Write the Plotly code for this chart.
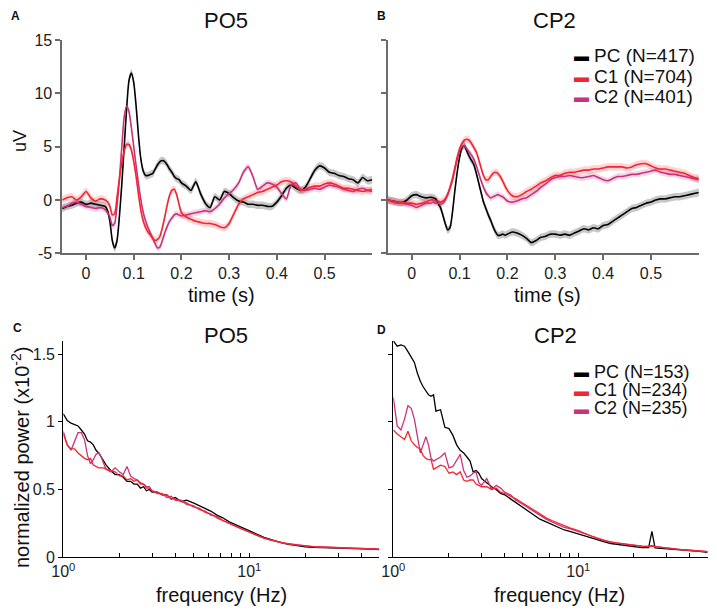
import math
import plotly.graph_objects as go

# ---------------- ERP data (time in s, amplitude in uV) ----------------
T = [-0.05, -0.04, -0.03, -0.02, -0.01, 0.0, 0.01, 0.02, 0.03, 0.04,
     0.045, 0.05, 0.055, 0.06, 0.065, 0.07, 0.075, 0.08, 0.085, 0.09,
     0.095, 0.1, 0.105, 0.11, 0.115, 0.12, 0.125, 0.13, 0.135, 0.14,
     0.145, 0.15, 0.155, 0.16, 0.165, 0.17, 0.175, 0.18, 0.185, 0.19,
     0.195, 0.2,
     0.21, 0.22, 0.23, 0.24, 0.25, 0.26, 0.27, 0.28, 0.29, 0.3,
     0.31, 0.32, 0.33, 0.34, 0.35, 0.36, 0.37, 0.38, 0.39, 0.4,
     0.41, 0.42, 0.43, 0.44, 0.45, 0.46, 0.47, 0.48, 0.49, 0.5,
     0.51, 0.52, 0.53, 0.54, 0.55, 0.56, 0.57, 0.58, 0.59, 0.6]

# Panel A (PO5)
A_PC = [-0.8, -0.6, -0.5, -0.3, -0.2, -0.4, -0.3, -0.4, -0.5, -0.6,
        -1.0, -2.0, -3.8, -4.5, -3.8, -1.5, 1.5, 5.0, 8.5, 11.2,
        11.9, 11.0, 8.8, 6.0, 3.8, 2.7, 2.3, 2.3, 2.4, 2.5,
        2.9, 3.3, 3.6, 3.7, 3.6, 3.3, 2.9, 2.6, 2.2, 2.0,
        1.9, 1.6,
        1.3, 0.9, 1.7, 0.6, -0.3, -0.7, 0.3, 0.0, 0.8, 0.6,
        0.2, -0.1, -0.2, -0.4, -0.4, -0.5, -0.5, -0.6, -0.6, -0.2,
        0.4, 1.1, 1.4, 1.1, 0.9, 1.2, 2.0, 2.8, 3.2, 3.0,
        2.6, 2.5, 2.3, 2.2, 2.0, 1.9, 1.6, 2.1, 1.8, 1.9]
A_C1 = [0.0, 0.2, 0.3, 0.0, 0.3, 0.8, 0.2, -0.1, 0.1, 0.0,
        -0.2, -0.6, -1.4, -1.3, 0.3, 2.0, 3.5, 4.6, 5.2, 5.2,
        4.7, 3.6, 2.2, 0.5, -1.0, -2.0, -2.6, -3.0, -3.3, -3.6,
        -3.8, -3.7, -3.4, -2.6, -1.6, -0.5, 0.4, 0.9, 1.0, 0.5,
        -0.4, -1.2,
        -1.6, -1.8, -2.0, -2.1, -2.2, -2.2, -2.3, -2.5, -2.6, -2.2,
        -1.3, -0.4, 0.1, 0.3, 0.5, 0.7, 0.8, 1.0, 1.2, 1.4,
        1.7, 1.8, 1.7, 1.3, 0.9, 1.0, 1.2, 1.3, 1.3, 1.5,
        1.6, 1.5, 1.3, 1.1, 1.1, 1.0, 0.9, 0.8, 0.9, 0.8]
A_C2 = [-0.7, -0.6, -0.3, -0.2, -0.4, -0.6, -0.7, -0.8, -0.7, -0.9,
        -1.2, -1.6, -2.4, -2.2, -0.5, 2.0, 5.0, 7.8, 8.8, 8.3,
        6.8, 5.0, 3.2, 1.5, 0.0, -1.2, -2.0, -2.6, -3.1, -3.6,
        -4.1, -4.5, -4.4, -3.8, -3.1, -2.5, -2.0, -1.7, -1.4, -1.3,
        -1.4, -1.5,
        -1.4, -1.3, -1.2, -1.1, -1.0, -1.1, -0.8, -0.4, 0.2, 0.6,
        1.0, 1.6, 2.6, 3.1, 2.2, 1.0, 1.3, 1.6, 1.5, 1.2,
        0.6, 0.1, 1.4, 1.6, 1.0, 0.9, 1.0, 1.1, 1.0, 1.2,
        1.4, 1.3, 1.2, 1.0, 0.9, 0.8, 1.0, 1.1, 0.9, 1.0]

# Panel B (CP2)
B_PC = [0.0, -0.1, -0.2, -0.25, 0.0, 0.4, 0.5, 0.3, 0.2, 0.25,
        0.2, 0.1, -0.3, -0.7, -1.4, -2.2, -2.8, -2.6, -1.2, 0.8,
        2.6, 4.0, 4.9, 5.1, 4.6, 4.1, 3.7, 3.3, 2.5, 1.6,
        0.7, -0.2, -0.8, -1.4, -1.9, -2.5, -3.0, -3.3, -3.3, -3.2,
        -3.3, -3.2,
        -3.0, -3.1, -3.3, -3.6, -4.0, -3.8, -3.5, -3.4, -3.2, -3.2,
        -3.3, -3.2, -3.3, -3.1, -2.9, -2.7, -2.8, -2.6, -2.7, -2.4,
        -2.3, -2.0, -1.7, -1.4, -1.1, -0.8, -0.7, -0.5, -0.3, -0.2,
        0.0, 0.1, 0.1, 0.2, 0.3, 0.3, 0.4, 0.5, 0.6, 0.7]
B_C1 = [0.0, -0.1, -0.2, -0.2, -0.3, -0.3, -0.4, -0.3, -0.2, 0.0,
        0.0, -0.1, -0.1, -0.2, -0.1, 0.1, 0.5, 1.2, 2.0, 3.0,
        4.0, 4.8, 5.3, 5.6, 5.7, 5.6, 5.3, 4.9, 4.5, 3.8,
        3.0, 2.3, 1.9, 1.9, 2.2, 2.5, 2.6, 2.5, 2.2, 1.8,
        1.3, 0.9,
        0.4, 0.3, 0.5, 0.8, 1.0, 1.3, 1.6, 1.8, 2.1, 2.3,
        2.3, 2.5, 2.6, 2.6, 2.7, 2.8, 2.8, 2.9, 2.9, 3.0,
        3.1, 3.1, 3.1, 3.1, 3.0, 3.1, 3.3, 3.4, 3.4, 3.2,
        3.0, 2.9, 2.9, 2.8, 2.7, 2.6, 2.5, 2.3, 2.1, 2.0]
B_C2 = [0.0, -0.2, -0.3, -0.3, -0.4, -0.5, -0.7, -0.5, -0.3, -0.3,
        -0.2, -0.3, -0.3, -0.4, -0.3, 0.0, 0.5, 1.1, 1.8, 2.8,
        3.8, 4.6, 5.0, 5.1, 4.8, 4.5, 4.2, 3.8, 3.2, 2.5,
        1.8, 1.2, 0.7, 0.4, 0.2, 0.3, 0.4, 0.5, 0.4, 0.3,
        0.1, -0.1,
        -0.2, -0.1, 0.1, 0.2, 0.5, 0.8, 1.2, 1.5, 1.9, 2.1,
        2.2, 2.2, 2.3, 2.2, 2.1, 2.1, 2.2, 2.3, 2.1, 1.9,
        1.8, 2.0, 2.2, 2.2, 2.3, 2.4, 2.4, 2.5, 2.6, 2.7,
        2.8, 2.6, 2.5, 2.4, 2.4, 2.3, 2.2, 2.1, 2.0, 1.9]

# half-width of the shaded error band, uV
SEM = {"PC": 0.35, "C1": 0.35, "C2": 0.3}

# ---------------- Power spectra (Hz, normalized power x1e-2) ----------------
F = [1.0, 1.05, 1.1, 1.15, 1.2, 1.25, 1.3, 1.35, 1.4, 1.45, 1.5, 1.55, 1.6, 1.65, 1.7,
     1.8, 1.9, 2.0, 2.1, 2.2, 2.3, 2.4, 2.5, 2.6, 2.7, 2.8, 2.9, 3.0,
     3.2, 3.4, 3.6, 3.8, 4.0,
     4.3, 4.6, 5.0, 5.4, 5.8, 6.2, 6.7, 7.2, 7.8, 8.4, 9.0,
     10, 11, 12, 13, 14, 15, 16,
     18, 20, 22, 24, 25, 26, 28, 30, 33, 36, 40, 45, 50]

C_PC = [1.06, 1.01, 0.99, 0.98, 0.97, 0.94, 0.91, 0.86, 0.85, 0.83, 0.79, 0.77, 0.74, 0.71, 0.68,
        0.64, 0.61, 0.61, 0.59, 0.56, 0.56, 0.54, 0.54, 0.51, 0.52, 0.49, 0.5, 0.48,
        0.48, 0.46, 0.46, 0.43, 0.44,
        0.41, 0.42, 0.4, 0.38, 0.36, 0.34, 0.31, 0.29, 0.26, 0.24, 0.22,
        0.19, 0.165, 0.145, 0.13, 0.115, 0.105, 0.095,
        0.082, 0.075, 0.071, 0.07, 0.07, 0.068, 0.068, 0.067, 0.066, 0.064, 0.062, 0.058, 0.055]
C_C1 = [0.91, 0.83, 0.8, 0.8, 0.77, 0.75, 0.73, 0.72, 0.73, 0.68, 0.67, 0.66, 0.66, 0.66, 0.65,
        0.64, 0.63, 0.6, 0.6, 0.57, 0.58, 0.56, 0.57, 0.54, 0.54, 0.51, 0.51, 0.49,
        0.48, 0.46, 0.46, 0.43, 0.43,
        0.41, 0.4, 0.37, 0.36, 0.33, 0.32, 0.29, 0.27, 0.25, 0.23, 0.21,
        0.185, 0.16, 0.14, 0.125, 0.115, 0.105, 0.098,
        0.088, 0.08, 0.077, 0.074, 0.073, 0.072, 0.07, 0.068, 0.066, 0.064, 0.062, 0.06, 0.058]
C_C2 = [0.93, 0.83, 0.79, 0.86, 0.92, 0.92, 0.87, 0.75, 0.69, 0.72, 0.76, 0.77, 0.74, 0.69, 0.65,
        0.63, 0.66, 0.63, 0.61, 0.67, 0.6, 0.58, 0.57, 0.55, 0.54, 0.52, 0.52, 0.49,
        0.47, 0.47, 0.44, 0.45, 0.42,
        0.42, 0.39, 0.38, 0.35, 0.34, 0.31, 0.3, 0.27, 0.25, 0.23, 0.21,
        0.185, 0.16, 0.14, 0.125, 0.115, 0.105, 0.1,
        0.09, 0.08, 0.077, 0.074, 0.073, 0.072, 0.07, 0.068, 0.066, 0.065, 0.062, 0.06, 0.058]

D_PC = [1.6, 1.56, 1.57, 1.56, 1.52, 1.48, 1.44, 1.36, 1.3, 1.26, 1.23, 1.2, 1.19, 1.2, 1.08,
        1.09, 0.96, 0.95, 0.9, 0.83, 0.79, 0.77, 0.74, 0.71, 0.63, 0.64, 0.62, 0.58,
        0.55, 0.52, 0.5, 0.47, 0.46,
        0.43, 0.4, 0.37, 0.34, 0.31, 0.28, 0.26, 0.24, 0.22, 0.2, 0.19,
        0.17, 0.15, 0.135, 0.12, 0.11, 0.1, 0.095,
        0.085, 0.075, 0.07, 0.07, 0.19, 0.068, 0.065, 0.062, 0.058, 0.055, 0.05, 0.042, 0.035]
D_C1 = [0.94, 0.91, 0.89, 0.87, 0.93, 0.86, 0.83, 0.81, 0.8, 0.75, 0.73, 0.72, 0.72, 0.65, 0.66,
        0.68, 0.67, 0.62, 0.63, 0.61, 0.63, 0.57, 0.56, 0.57, 0.57, 0.54, 0.53, 0.52,
        0.52, 0.5, 0.51, 0.48, 0.47,
        0.45, 0.43, 0.4, 0.37, 0.34, 0.32, 0.29, 0.27, 0.25, 0.23, 0.215,
        0.195, 0.17, 0.15, 0.135, 0.12, 0.11, 0.105,
        0.095, 0.085, 0.08, 0.078, 0.08, 0.076, 0.07, 0.066, 0.06, 0.055, 0.05, 0.045, 0.04]
D_C2 = [1.18, 0.97, 0.94, 1.02, 1.12, 1.1, 1.02, 0.88, 0.77, 0.83, 0.89, 0.83, 0.73, 0.71, 0.72,
        0.74, 0.77, 0.66, 0.67, 0.72, 0.76, 0.64, 0.59, 0.6, 0.62, 0.63, 0.55, 0.53,
        0.58, 0.5, 0.53, 0.51, 0.48,
        0.46, 0.42, 0.39, 0.36, 0.33, 0.31, 0.28, 0.26, 0.24, 0.22, 0.21,
        0.19, 0.17, 0.15, 0.135, 0.12, 0.11, 0.105,
        0.095, 0.085, 0.08, 0.078, 0.085, 0.076, 0.07, 0.066, 0.06, 0.055, 0.05, 0.045, 0.04]

TOP_LABELS = {"PC": "PC (N=417)", "C1": "C1 (N=704)", "C2": "C2 (N=401)"}
BOT_LABELS = {"PC": "PC (N=153)", "C1": "C1 (N=234)", "C2": "C2 (N=235)"}
ERP_TICKS = [0, 0.1, 0.2, 0.3, 0.4, 0.5]
UV_TICKS = [-5, 0, 5, 10, 15]
UV_TEXT = ["-5", "0", "5", "10", "15"]
POW_TICKS = [0, 0.5, 1, 1.5]
FREQ_TICKS = [1, 2, 3, 4, 5, 6, 7, 8, 9, 10, 20, 30, 40, 50]
FREQ_TEXT = ["10<sup>0</sup>", "", "", "", "", "", "", "", "", "10<sup>1</sup>", "", "", "", ""]

COL = {"PC": "#000000", "C1": "#f3252f", "C2": "#c9327c"}
BAND = {"PC": "rgba(0,0,0,0.22)", "C1": "rgba(243,37,47,0.2)", "C2": "rgba(201,50,124,0.2)"}

FONT = "Liberation Sans, Arial, sans-serif"
# the page body adds an 8 px margin around the figure
OFF = 8
W, H = 717 - 2 * OFF, 615 - 2 * OFF

fig = go.Figure()

erp = {"A": {"PC": A_PC, "C1": A_C1, "C2": A_C2},
       "B": {"PC": B_PC, "C1": B_C1, "C2": B_C2}}
order = ["PC", "C2", "C1"]

for panel, (xa, ya) in {"A": ("x", "y"), "B": ("x2", "y2")}.items():
    for k in order:
        vals = erp[panel][k]
        up = [v + SEM[k] for v in vals]
        lo = [v - SEM[k] for v in vals]
        fig.add_trace(go.Scatter(x=T + T[::-1], y=up + lo[::-1], fill="toself",
                                 fillcolor=BAND[k], line=dict(width=0, shape="spline"),
                                 mode="lines", hoverinfo="skip", showlegend=False,
                                 xaxis=xa, yaxis=ya))
    for k in order:
        fig.add_trace(go.Scatter(x=T, y=erp[panel][k], mode="lines",
                                 line=dict(color=COL[k], width=1.6, shape="spline", smoothing=0.6),
                                 name=TOP_LABELS[k], showlegend=False,
                                 xaxis=xa, yaxis=ya))

spec = {"C": {"PC": C_PC, "C1": C_C1, "C2": C_C2},
        "D": {"PC": D_PC, "C1": D_C1, "C2": D_C2}}
for panel, (xa, ya) in {"C": ("x3", "y3"), "D": ("x4", "y4")}.items():
    for k in order:
        fig.add_trace(go.Scatter(x=F, y=spec[panel][k], mode="lines",
                                 line=dict(color=COL[k], width=1.3),
                                 name=BOT_LABELS[k], showlegend=False,
                                 xaxis=xa, yaxis=ya))


def px_x(p):
    return (p - OFF) / W


def px_y(p):
    return 1 - (p - OFF) / H


erp_x_common = dict(range=[-0.05, 0.6], tickvals=ERP_TICKS, ticks="outside", ticklen=5,
                    tickwidth=1.5, tickcolor="#6b6b6b", showline=True, linecolor="#6b6b6b",
                    linewidth=1.5, showgrid=False, zeroline=False, automargin=False,
                    tickfont=dict(size=16, color="#222"))
erp_y_common = dict(range=[-5, 15], tickvals=UV_TICKS, ticktext=UV_TEXT, ticks="outside",
                    ticklen=5, tickwidth=1.5, tickcolor="#6b6b6b", showline=True,
                    linecolor="#6b6b6b", linewidth=1.5, showgrid=False, zeroline=False,
                    automargin=False, tickfont=dict(size=16, color="#222"))
log_x_common = dict(type="log", range=[0, math.log10(50)], tickvals=FREQ_TICKS,
                    ticktext=FREQ_TEXT, ticks="inside", ticklen=4, tickcolor="#000",
                    showline=True, linecolor="#000", linewidth=1.2, showgrid=False,
                    zeroline=False, automargin=False, tickfont=dict(size=16, color="#222"))
pow_y_common = dict(range=[0, 1.6], tickvals=POW_TICKS, ticks="outside", ticklen=4,
                    tickcolor="#000", showline=True, linecolor="#000", linewidth=1.2,
                    showgrid=False, zeroline=False, automargin=False,
                    tickfont=dict(size=16, color="#222"))

top_dom = [px_y(253.3), px_y(40)]
bot_dom = [px_y(557), px_y(340.8)]

fig.update_layout(
    template="none",
    width=W, height=H, margin=dict(l=0, r=0, t=0, b=0, autoexpand=False),
    paper_bgcolor="white", plot_bgcolor="white", showlegend=False,
    font=dict(family=FONT, color="#111"),
    xaxis=dict(domain=[px_x(62.2), px_x(372.2)], anchor="y", **erp_x_common),
    yaxis=dict(domain=top_dom, anchor="x", **erp_y_common),
    xaxis2=dict(domain=[px_x(387.8), px_x(698.8)], anchor="y2", **erp_x_common),
    yaxis2=dict(domain=top_dom, anchor="x2", showticklabels=False,
                **{k: v for k, v in erp_y_common.items() if k != "tickfont"}),
    xaxis3=dict(domain=[px_x(63.3), px_x(379.3)], anchor="y3", **log_x_common),
    yaxis3=dict(domain=bot_dom, anchor="x3", **pow_y_common),
    xaxis4=dict(domain=[px_x(393.3), px_x(707.6)], anchor="y4", **log_x_common),
    yaxis4=dict(domain=bot_dom, anchor="x4", showticklabels=False,
                **{k: v for k, v in pow_y_common.items() if k != "tickfont"}),
)

ann = []


def text(x, y, s, size, angle=0, xanchor="center", yanchor="middle", color="#111"):
    ann.append(dict(x=px_x(x), y=px_y(y), xref="paper", yref="paper", text=s,
                    showarrow=False, xanchor=xanchor, yanchor=yanchor, textangle=angle,
                    borderpad=0, font=dict(size=size, family=FONT, color=color)))


text(226, 20, "PO5", 22)
text(554, 20, "CP2", 22)
text(226, 335, "PO5", 22)
text(555, 335, "CP2", 22)
text(15, 8, "<b>A</b>", 12, yanchor="top")
text(381, 8, "<b>B</b>", 12, yanchor="top")
text(17, 320, "<b>C</b>", 12, yanchor="top")
text(381, 322, "<b>D</b>", 12, yanchor="top")
text(20, 141, "uV", 18, angle=-90)
text(222, 295, "time (s)", 20)
text(547, 295, "time (s)", 20)
text(20, 458, "normalized power (x10<sup>-2</sup>)", 20, angle=-90)
text(222, 595, "frequency (Hz)", 20)
text(559, 595, "frequency (Hz)", 20)

# legends (colour key built from the series names and colours)
for rows, labels, fs in (([55, 76.5, 97], TOP_LABELS, 19), ([371.7, 390, 408.3], BOT_LABELS, 18)):
    for yy, k in zip(rows, ["PC", "C1", "C2"]):
        text(581.5, yy, "\u25ac", 15, color=COL[k])
        text(593, yy, labels[k], fs, xanchor="left")

fig.update_layout(annotations=ann)

fig.write_html("out.html")
